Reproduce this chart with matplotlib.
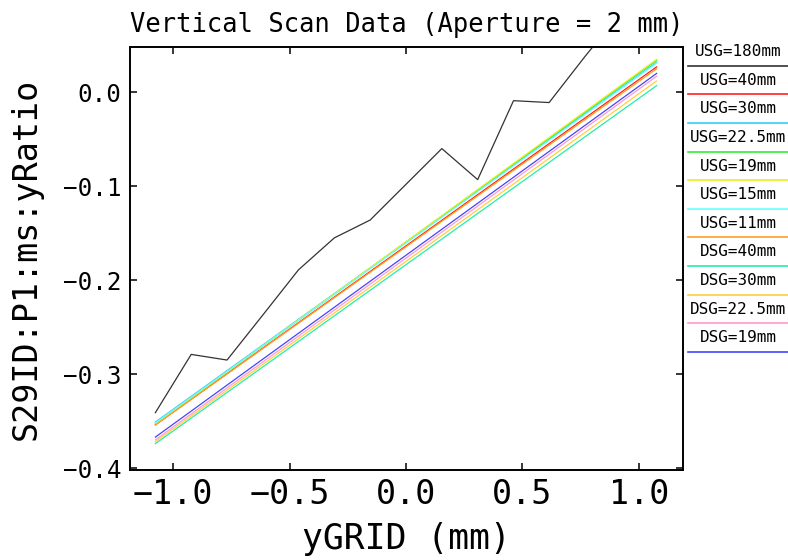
import matplotlib
matplotlib.use('Agg')
import matplotlib.pyplot as plt
from matplotlib.lines import Line2D

plt.rcParams['font.family'] = 'DejaVu Sans Mono'

# scan positions (mm) of the USG=180mm curve
x_scan = [-1.077, -0.923, -0.769, -0.615, -0.462, -0.308, -0.154, 0.0,
          0.154, 0.308, 0.462, 0.615, 0.769, 0.923, 1.077]
usg180 = [-0.341, -0.279, -0.285, -0.237, -0.189, -0.155, -0.136, -0.098,
          -0.060, -0.093, -0.009, -0.011, 0.038, 0.085, 0.12]

# other gaps: straight lines, read at the two ends
x_ends = [-1.077, 1.077]
usg40 = [-0.354, 0.027]
usg30 = [-0.351, 0.032]
usg22 = [-0.353, 0.034]
usg19 = [-0.353, 0.035]
usg15 = [-0.352, 0.031]
usg11 = [-0.354, 0.025]
dsg40 = [-0.374, 0.007]
dsg30 = [-0.372, 0.012]
dsg22 = [-0.370, 0.017]
dsg19 = [-0.367, 0.020]

labels = ['USG=180mm', 'USG=40mm', 'USG=30mm', 'USG=22.5mm', 'USG=19mm',
          'USG=15mm', 'USG=11mm', 'DSG=40mm', 'DSG=30mm', 'DSG=22.5mm', 'DSG=19mm']
colors = ['#333333', '#ff2020', '#33ccff', '#33ee33', '#eeee22', '#66ffff',
          '#ffa020', '#22eeaa', '#ffd040', '#ff99cc', '#4444ff']
series = [(x_scan, usg180), (x_ends, usg40), (x_ends, usg30), (x_ends, usg22),
          (x_ends, usg19), (x_ends, usg15), (x_ends, usg11), (x_ends, dsg40),
          (x_ends, dsg30), (x_ends, dsg22), (x_ends, dsg19)]

W, H = 788, 560
fig = plt.figure(figsize=(W / 100, H / 100), dpi=100)
ax = fig.add_axes([130 / W, 1 - 470 / H, (682.7 - 130) / W, (470 - 47.3) / H])

for (xs, ys), c in zip(series, colors):
    ax.plot(xs, ys, color=c, lw=0.9)

ax.set_xlim(-1.186, 1.189)
ax.set_ylim(-0.402, 0.0478)
ax.set_xticks([-1.0, -0.5, 0.0, 0.5, 1.0])
ax.set_yticks([-0.4, -0.3, -0.2, -0.1, 0.0])
ax.set_xticklabels(['\u22121.0', '\u22120.5', '0.0', '0.5', '1.0'])
ax.set_yticklabels(['\u22120.4', '\u22120.3', '\u22120.2', '\u22120.1', '0.0'])
ax.tick_params(direction='in', length=5, width=1.1, top=True, right=True)
ax.tick_params(axis='x', labelsize=24, pad=6)
ax.tick_params(axis='y', labelsize=17.5, pad=6)
for s in ax.spines.values():
    s.set_linewidth(1.4)

ax.set_title('Vertical Scan Data (Aperture = 2 mm)', fontsize=18.4, pad=11)
ax.set_xlabel('yGRID (mm)', fontsize=25, labelpad=8)
ax.set_ylabel('S29ID:P1:ms:yRatio', fontsize=24, labelpad=15)

# legend drawn at the right edge: label over a coloured line
for i, (lab, c) in enumerate(zip(labels, colors)):
    yl = 65.7 + 28.6 * i
    fig.text(738 / W, 1 - (yl - 14) / H, lab, ha='center', va='center', fontsize=11.5)
    fig.add_artist(Line2D([688 / W, 1.0], [1 - yl / H, 1 - yl / H],
                          color=c, lw=1.2, transform=fig.transFigure))

fig.savefig('out.png', dpi=100)
